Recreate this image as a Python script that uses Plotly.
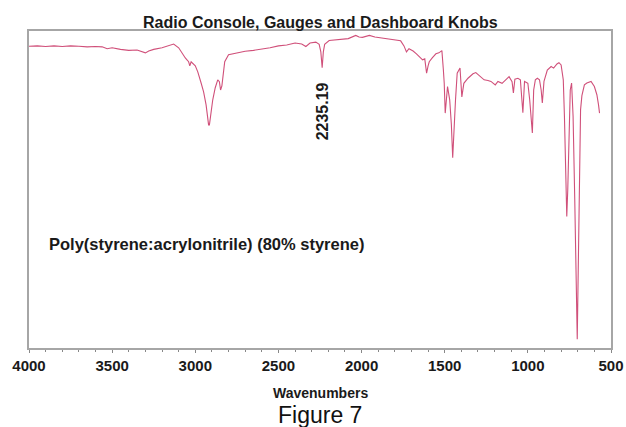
import plotly.graph_objects as go

# Wavenumbers (cm^-1) and transmittance (%T, arbitrary scale)
wavenumbers = [
    4000, 3950, 3900, 3850, 3800, 3750, 3700, 3650, 3600, 3560, 3530, 3500, 3450, 3400,
    3350, 3310, 3300, 3280, 3250, 3200, 3150, 3130, 3100, 3085, 3070, 3060, 3050, 3040,
    3033, 3025, 3000, 2985, 2965, 2950, 2935, 2925, 2920, 2915, 2905, 2895, 2880, 2865,
    2855, 2848, 2840, 2823, 2800, 2750, 2700, 2650, 2600, 2550, 2500, 2450, 2400, 2360,
    2335, 2310, 2275, 2255, 2245, 2237, 2230, 2222, 2195, 2150, 2115, 2080, 2035, 2015,
    1995, 1970, 1953, 1920, 1875, 1830, 1790, 1765, 1745, 1730, 1715, 1690, 1670, 1653,
    1633, 1620, 1609, 1600, 1593, 1575, 1553, 1535, 1517, 1508, 1503, 1497, 1490, 1483,
    1470, 1460, 1452, 1445, 1435, 1425, 1408, 1397, 1385, 1360, 1330, 1313, 1290, 1263,
    1240, 1222, 1196, 1180, 1155, 1135, 1113, 1095, 1087, 1078, 1060, 1045, 1030, 1020,
    1000, 989, 981, 973, 965, 955, 943, 930, 920, 913, 903, 883, 860, 845,
    825, 813, 800, 787, 780, 772, 766, 760, 752, 745, 737, 728, 718, 710,
    703, 697, 690, 683, 675, 660, 645, 620, 600, 585, 575, 569,
]
transmittance = [
    95.2, 95.3, 95.1, 95.3, 95.1, 95.3, 95.2, 95.0, 95.1, 95.0, 94.4, 94.7, 94.2, 93.9,
    94.0, 93.2, 93.1, 93.7, 94.2, 94.7, 95.6, 95.9, 94.7, 93.4, 92.1, 91.5, 90.9, 90.3,
    89.0, 90.3, 89.0, 87.1, 83.6, 80.8, 76.7, 73.3, 70.4, 70.4, 75.2, 78.3, 82.1, 84.6,
    84.0, 81.4, 82.7, 90.3, 92.5, 93.1, 93.6, 93.9, 94.2, 94.7, 95.3, 95.6, 96.2, 95.9,
    95.1, 96.2, 96.5, 95.8, 93.4, 88.4, 93.4, 95.8, 97.0, 97.2, 97.3, 97.6, 98.6, 98.1,
    98.0, 98.4, 98.6, 98.1, 97.8, 97.5, 97.2, 96.9, 95.3, 93.4, 94.4, 93.7, 92.8, 92.0,
    90.9, 91.2, 86.7, 89.0, 90.3, 91.5, 92.8, 93.1, 93.8, 87.7, 83.6, 74.1, 79.9, 82.5,
    78.3, 70.4, 60.0, 68.9, 78.3, 86.7, 88.3, 79.2, 83.5, 85.1, 86.5, 86.9, 85.8, 84.6,
    84.4, 84.1, 83.0, 84.1, 83.5, 84.6, 85.6, 84.0, 80.5, 84.8, 85.1, 84.6, 74.2, 84.1,
    83.5, 78.3, 73.6, 67.8, 81.4, 84.6, 85.1, 84.6, 81.4, 77.3, 84.1, 87.7, 88.8, 88.3,
    89.6, 90.0, 89.3, 84.6, 73.0, 56.3, 41.5, 50.0, 72.0, 81.4, 83.6, 73.0, 46.9, 18.6,
    2.8, 24.8, 59.4, 75.2, 79.6, 83.0, 83.6, 84.1, 82.5, 79.9, 76.7, 74.1,
]

title_text = "Radio Console, Gauges and Dashboard Knobs"
sample_label = "Poly(styrene:acrylonitrile) (80% styrene)"
peak_label_pos = 2235.19
x_title = "Wavenumbers"
figure_caption = "Figure 7"
tick_values = [4000, 3500, 3000, 2500, 2000, 1500, 1000, 500]
tick_labels = ["4000", "3500", "3000", "2500", "2000", "1500", "1000", "500"]

fig = go.Figure()
fig.add_trace(go.Scatter(
    x=wavenumbers, y=transmittance, mode="lines",
    line=dict(color="#d0507a", width=1.1), hoverinfo="skip", showlegend=False,
))

frame_color = "#a6a6a6"
font_family = "Liberation Sans, Arial, sans-serif"
fig.update_layout(
    width=626, height=427,
    margin=dict(l=29, r=15, t=31, b=79, autoexpand=False),
    paper_bgcolor="white", plot_bgcolor="white",
    font=dict(family=font_family, color="#1a1a1a"),
    xaxis=dict(
        range=[4000, 500], tickvals=tick_values, ticktext=tick_labels, automargin=False,
        showgrid=False, zeroline=False, showline=True, linecolor=frame_color,
        linewidth=1.5, mirror=True, ticks="outside", ticklen=3, tickcolor="#888",
        tickfont=dict(size=15, family=font_family, color="#1a1a1a", weight="bold"),
        minor=dict(dtick=100, ticks="outside", ticklen=2, tickcolor="#888"),
    ),
    yaxis=dict(
        range=[0, 100], showticklabels=False, ticks="", showgrid=False, zeroline=False,
        automargin=False,
        showline=True, linecolor=frame_color, linewidth=1.5, mirror=True,
    ),
    annotations=[
        dict(text=f"<b>{title_text}</b>", xref="paper", yref="paper", x=0.5, y=1.028,
             xanchor="center", yanchor="middle", showarrow=False, font=dict(size=16)),
        dict(text=f"<b>{peak_label_pos:.2f}</b>", xref="x", yref="paper", x=peak_label_pos,
             y=0.748, xanchor="center", yanchor="middle", textangle=-90, showarrow=False,
             font=dict(size=16)),
        dict(text=f"<b>{sample_label}</b>", xref="paper", yref="paper", x=0.031, y=0.328,
             xanchor="left", yanchor="middle", showarrow=False, font=dict(size=16.5)),
        dict(text=f"<b>{x_title}</b>", xref="paper", yref="paper", x=0.5, y=-0.142,
             xanchor="center", yanchor="middle", showarrow=False, font=dict(size=14)),
        dict(text=figure_caption, xref="paper", yref="paper", x=0.5, y=-0.211,
             xanchor="center", yanchor="middle", showarrow=False,
             font=dict(size=23, color="#111")),
    ],
)

fig.write_html(
    "out.html",
    config={"displayModeBar": False},
    post_script="document.body.style.margin='0';document.body.style.overflow='hidden';",
)
